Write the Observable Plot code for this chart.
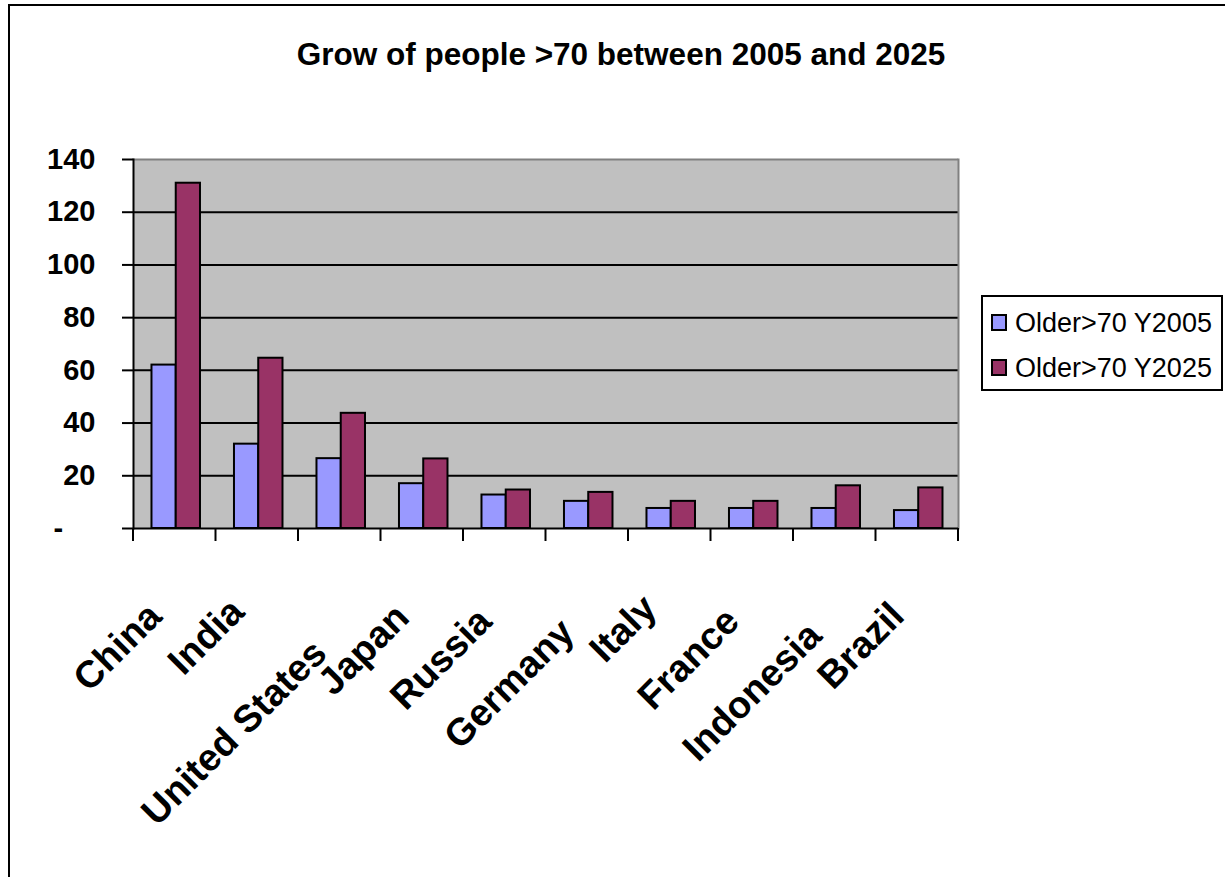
<!DOCTYPE html>
<html>
<head>
<meta charset="utf-8">
<script src="https://cdn.jsdelivr.net/npm/d3@7"></script>
<script src="https://cdn.jsdelivr.net/npm/@observablehq/plot@0.6"></script>
<style>
  html, body { margin: 0; padding: 0; background: #fff; }
  #root { position: relative; width: 1225px; height: 877px; overflow: hidden; background: #fff; font-family: "Liberation Sans", Arial, sans-serif; color: #000; }
  #frame { position: absolute; left: 8px; top: 4px; width: 1400px; height: 1000px; border-left: 2px solid #000; border-top: 2px solid #000; }
  #title { position: absolute; left: 0; top: 39px; width: 1242px; text-align: center; font-size: 31.5px; line-height: 31px; font-weight: bold; white-space: nowrap; }
  #chart { position: absolute; left: 0; top: 140px; }
  #legend { position: absolute; left: 981px; top: 295px; width: 238px; height: 92px; border: 2px solid #000; background: #fff; }
  .row { position: absolute; left: 8px; height: 27px; line-height: 27px; font-size: 27px; white-space: nowrap; }
  .sw { display: inline-block; width: 12px; height: 13px; border: 2px solid #000; vertical-align: middle; margin-right: 8px; position: relative; top: -2px; }
</style>
</head>
<body>
<div id="root">
  <div id="frame"></div>
  <div id="title">Grow of people &gt;70 between 2005 and 2025</div>
  <div id="chart"></div>
  <div id="legend"></div>
</div>
<script>
// ---- data ----
const countries = ["China", "India", "United States", "Japan", "Russia", "Germany", "Italy", "France", "Indonesia", "Brazil"];
const older2005 = [62, 32, 26.5, 17, 12.7, 10.3, 7.6, 7.6, 7.6, 6.8];
const older2025 = [131, 64.6, 43.7, 26.4, 14.6, 13.7, 10.3, 10.3, 16.2, 15.4];
const seriesNames = ["Older>70 Y2005", "Older>70 Y2025"];
const seriesColors = ["#9999FF", "#993366"];
const yTicks = [0, 20, 40, 60, 80, 100, 120, 140];

const rows2005 = countries.map((c, i) => ({country: c, value: older2005[i]}));
const rows2025 = countries.map((c, i) => ({country: c, value: older2025[i]}));

// ---- layout ----
const W = 1225, H = 737;
const mL = 133, mR = 267, mT = 19, mB = 349;
const bw = (W - mL - mR) / countries.length;
const gStart = 0.224, gMid = 0.518, gEnd = 0.812; // group position inside each category band
const labelFont = 38;

function boundaryTicks(index, scales) {
  const x = scales.x, y = scales.y;
  const band = typeof x.bandwidth === "function" ? x.bandwidth() : x.bandwidth;
  const edges = countries.map(c => x(c)).concat([x(countries[countries.length - 1]) + band]);
  const g = d3.create("svg:g").attr("stroke", "black").attr("stroke-width", 2);
  g.selectAll("line").data(edges).join("line")
    .attr("x1", d => d).attr("x2", d => d)
    .attr("y1", y(0)).attr("y2", y(0) + 13);
  return g.node();
}

const chart = Plot.plot({
  width: W,
  height: H,
  marginLeft: mL,
  marginRight: mR,
  marginTop: mT,
  marginBottom: mB,
  style: {fontFamily: "'Liberation Sans', Arial, sans-serif", color: "black", background: "transparent", overflow: "visible"},
  x: {type: "band", domain: countries, padding: 0, round: false, axis: null, label: null},
  y: {domain: [0, 140], label: null},
  marks: [
    Plot.frame({fill: "#C0C0C0", stroke: null}),
    Plot.ruleY(yTicks.filter(v => v > 0 && v < 140), {stroke: "black", strokeWidth: 2}),
    Plot.ruleY([140], {stroke: "#808080", strokeWidth: 2}),
    Plot.frame({anchor: "right", stroke: "#808080", strokeWidth: 2}),
    Plot.barY(rows2005, {x: "country", y: "value", fill: seriesColors[0], stroke: "black", strokeWidth: 2,
      insetLeft: bw * gStart, insetRight: bw * (1 - gMid)}),
    Plot.barY(rows2025, {x: "country", y: "value", fill: seriesColors[1], stroke: "black", strokeWidth: 2,
      insetLeft: bw * gMid, insetRight: bw * (1 - gEnd)}),
    Plot.ruleY([0], {stroke: "black", strokeWidth: 2}),
    Plot.frame({anchor: "left", stroke: "black", strokeWidth: 2}),
    Plot.axisY({ticks: yTicks, anchor: "left", label: null, tickSize: 11, tickPadding: 27, fontSize: 29, fontWeight: "bold",
      strokeWidth: 2, stroke: "black", fill: "black",
      tickFormat: d => d === 0 ? "-\u00a0\u00a0\u00a0\u00a0" : String(d)}),
    boundaryTicks,
    Plot.text(countries, {x: d => d, frameAnchor: "bottom", dx: -11, dy: 90, rotate: -45, textAnchor: "end",
      fontSize: labelFont, fontWeight: "bold", fill: "black"})
  ]
});
document.getElementById("chart").appendChild(chart);

// Excel-like placement of angled category labels: longer labels sit a little lower
(function adjustLabels() {
  const texts = d3.select(chart).selectAll('g[aria-label="text"] text').nodes();
  if (!texts.length) return;
  const lens = texts.map(t => t.getComputedTextLength());
  const ref = lens[0];
  texts.forEach((t, i) => {
    const extra = 0.27 * (lens[i] - ref);
    const tr = t.getAttribute("transform") || "";
    t.setAttribute("transform", `translate(0,${extra.toFixed(2)}) ${tr}`);
  });
})();

// ---- legend ----
const legend = document.getElementById("legend");
const rowTops = [12.5, 57.5];
seriesNames.forEach((name, i) => {
  const row = document.createElement("div");
  row.className = "row";
  row.style.top = rowTops[i] + "px";
  const sw = document.createElement("span");
  sw.className = "sw";
  sw.style.background = seriesColors[i];
  row.appendChild(sw);
  row.appendChild(document.createTextNode(name));
  legend.appendChild(row);
});
</script>
</body>
</html>
